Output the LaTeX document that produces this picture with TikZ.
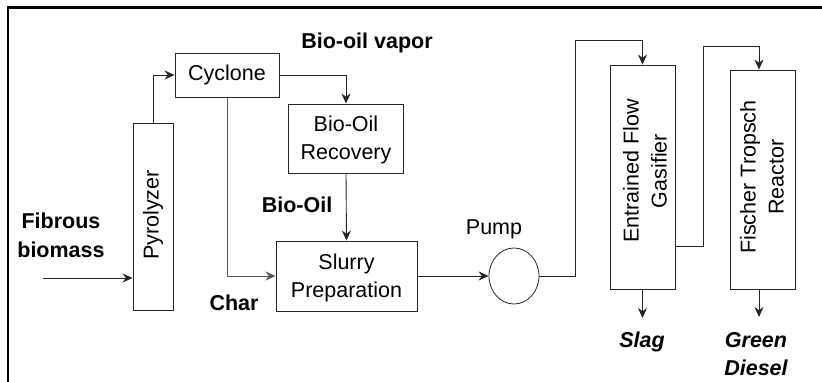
\documentclass[tikz,border=0pt]{standalone}
\usepackage{fontspec}
\setmainfont{Liberation Sans}
\usetikzlibrary{arrows.meta,shapes.geometric}
\begin{document}
\begin{tikzpicture}[x=1pt,y=-1pt,
  font=\fontsize{21.5}{28}\selectfont,
  box/.style={draw=black!85,line width=0.9pt,inner sep=0pt,rectangle},
  lbl/.style={inner sep=0pt,align=center},
  blbl/.style={inner sep=0pt,align=center,font=\fontsize{21.5}{29}\selectfont\bfseries},
  rlbl/.style={inner sep=0pt,align=center,rotate=90},
  arr/.style={draw=black!85,line width=0.9pt,-{Stealth[length=10pt,width=9pt]}},
  ln/.style={draw=black!85,line width=0.9pt}]
\useasboundingbox (0,0) rectangle (822,382);
% frame
\draw[line width=2.2pt] (8,382) -- (8,7.5) -- (822,7.5);
% boxes
\node[box,minimum width=104pt,minimum height=44pt] (cyc) at (227,75) {Cyclone};
\node[box,minimum width=40pt,minimum height=187pt] (pyro) at (153,216.5) {};
\node[rlbl] (pyrot) at (153,215) {Pyrolyzer};
\node[box,minimum width=115pt,minimum height=69pt] (rec) at (346,138.5) {};
\node[lbl] (rect) at (346,140) {Bio-Oil\\Recovery};
\node[box,minimum width=141pt,minimum height=70pt] (slur) at (346.5,276) {};
\node[lbl] (slurt) at (346.5,278) {Slurry\\Preparation};
\node[ellipse,draw=black!85,line width=0.8pt,minimum width=50pt,minimum height=56pt,inner sep=0pt] (pump) at (514,276) {};
\node[box,minimum width=65pt,minimum height=224pt] (gas) at (642.5,177) {};
\node[rlbl] (gast) at (645,171) {Entrained Flow\\Gasifier};
\node[box,minimum width=65pt,minimum height=219pt] (ft) at (762.5,179.5) {};
\node[rlbl] (ftt) at (762,177) {Fischer Tropsch\\Reactor};
% labels
\node[blbl] (vap) at (367,43) {Bio-oil vapor};
\node[blbl] (boil) at (297,205) {Bio-Oil};
\node[blbl] (char) at (234,303) {Char};
\node[blbl] (fib) at (61,235) {Fibrous\\biomass};
\node[lbl] (pumpl) at (494,229) {Pump};
\node[blbl,font=\fontsize{21.5}{28}\selectfont\bfseries\itshape] (slag) at (642,342) {Slag};
\node[blbl,font=\fontsize{21.5}{28}\selectfont\bfseries\itshape] (gd) at (756,354) {Green\\Diesel};
% connectors
\coordinate (fin) at (43,278);
\draw[arr] (fin) -- (fin -| pyro.west);
\draw[arr] (pyro.north) |- (cyc.west);
\draw[arr] (cyc.east) -| (rec.north);
\draw[arr,draw=black!65] (cyc.south) |- (slur.west);
\draw[arr] (rec.south) -- (slur.north);
\draw[arr] (slur.east) -- (pump.west);
\coordinate (p1) at (575,40);
\draw[arr] (pump.east) -| (p1) -| (gas.north);
\coordinate (p2) at (703,46);
\draw[ln] ([yshift=-69pt]gas.east) -| (p2);
\draw[arr] (p2) -| ([xshift=-3.5pt]ft.north);
\coordinate (sl) at (642.5,318);
\draw[arr] (gas.south) -- (sl);
\coordinate (gdo) at (759,317);
\draw[arr] ([xshift=-3.5pt]ft.south) -- (gdo);
\end{tikzpicture}
\end{document}
